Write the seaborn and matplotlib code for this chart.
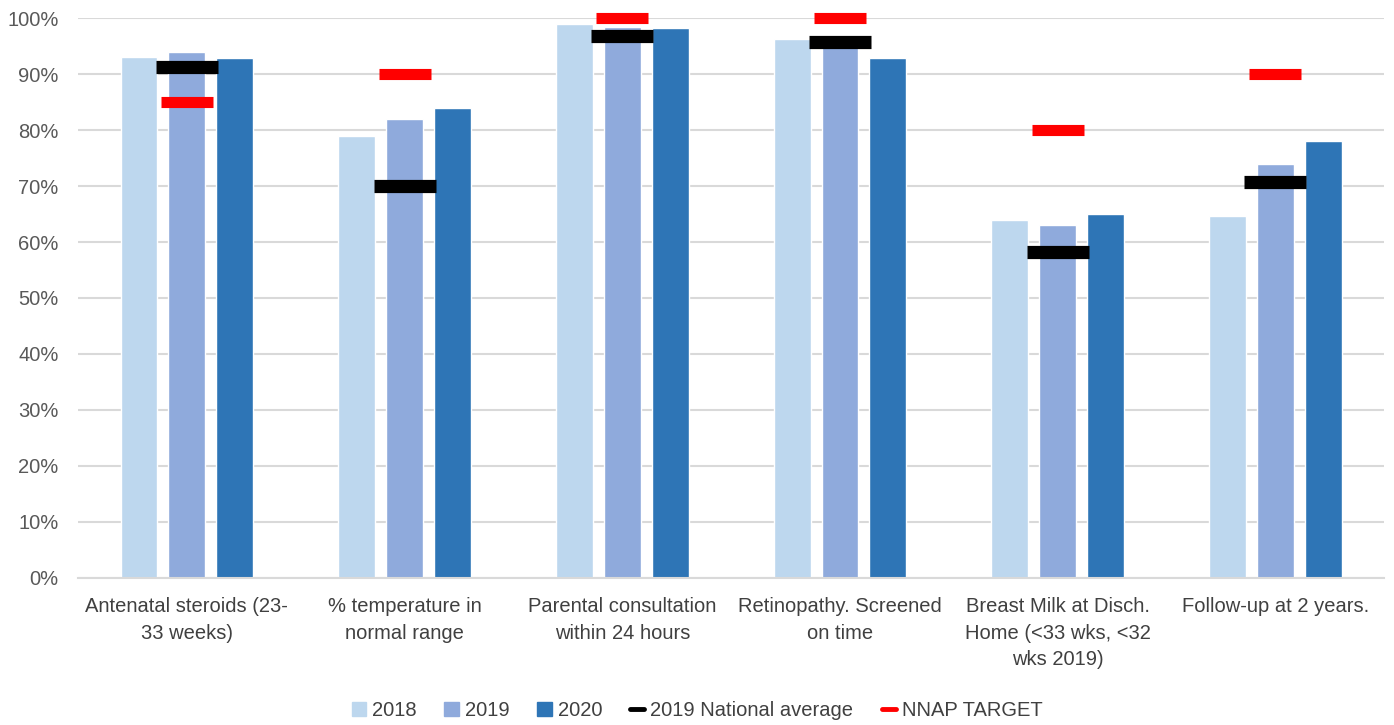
import numpy as np
import pandas as pd
import matplotlib.pyplot as plt
import seaborn as sns
from matplotlib.lines import Line2D
from matplotlib.patches import Patch

sns.set_theme(style="white")
plt.rcParams["font.family"] = ["Liberation Sans", "DejaVu Sans"]

# ── data ────────────────────────────────────────────────────────────────────
categories = [
    "Antenatal steroids (23-\n33 weeks)",
    "% temperature in\nnormal range",
    "Parental consultation\nwithin 24 hours",
    "Retinopathy. Screened\non time",
    "Breast Milk at Disch.\nHome (<33 wks, <32\nwks 2019)",
    "Follow-up at 2 years.",
]
years = ["2018", "2019", "2020"]
vals_2018 = [93.1, 79, 98.9, 96.3, 64, 64.7]
vals_2019 = [94.0, 82, 98.5, 96, 63, 74]
vals_2020 = [92.8, 84, 98.2, 92.8, 65, 78]
national_avg_2019 = [91.3, 70, 96.8, 95.8, 58.2, 70.8]
nnap_target = [85, 90, 100, 100, 80, 90]

year_colors = ["#BDD7EE", "#8FAADC", "#2E75B6"]

df = pd.DataFrame({
    "category": categories * 3,
    "year": np.repeat(years, len(categories)),
    "value": vals_2018 + vals_2019 + vals_2020,
})

# ── plot ────────────────────────────────────────────────────────────────────
fig = plt.figure(figsize=(13.94, 7.25), dpi=100)
ax = fig.add_axes([0.056, 0.203, 0.937, 0.772])

sns.barplot(data=df, x="category", y="value", hue="year", palette=year_colors,
            width=0.66, gap=0.23, ax=ax, legend=False, saturation=1)

x = np.arange(len(categories))
ax.plot(x, national_avg_2019, linestyle="none", marker="_", ms=45, mew=9.5,
        color="black", zorder=5, clip_on=False)
ax.plot(x, nnap_target, linestyle="none", marker="_", ms=37, mew=8,
        color="#FF0000", zorder=6, clip_on=False)

ax.set_ylim(0, 100)
ax.set_xlim(-0.5, len(categories) - 0.5)
ax.set_yticks(np.arange(0, 101, 10))
ax.set_yticklabels([f"{v}%" for v in range(0, 101, 10)])
ax.yaxis.grid(True, color="#D9D9D9", lw=1.5)
ax.set_axisbelow(True)
for s in ["top", "right", "left"]:
    ax.spines[s].set_visible(False)
ax.spines["bottom"].set_color("#D9D9D9")
ax.spines["bottom"].set_linewidth(1.5)
ax.tick_params(axis="y", colors="#595959", labelsize=14.5, length=0, pad=14)
ax.tick_params(axis="x", colors="#404040", labelsize=14.5, length=0, pad=14)
for lbl in ax.get_xticklabels():
    lbl.set_linespacing(1.5)
ax.set_xlabel(""); ax.set_ylabel("")

handles = [Patch(color=c, label=y) for c, y in zip(year_colors, years)]
handles += [
    Line2D([], [], color="black", lw=3.5, label="2019 National average"),
    Line2D([], [], color="#FF0000", lw=3.5, label="NNAP TARGET"),
]
fig.legend(handles=handles, loc="center", bbox_to_anchor=(0.5, 0.02), ncol=5,
           frameon=False, fontsize=14.5, handlelength=0.7, handleheight=0.7,
           handletextpad=0.3, columnspacing=1.4, labelcolor="#404040")

fig.savefig("out.png", dpi=100)
